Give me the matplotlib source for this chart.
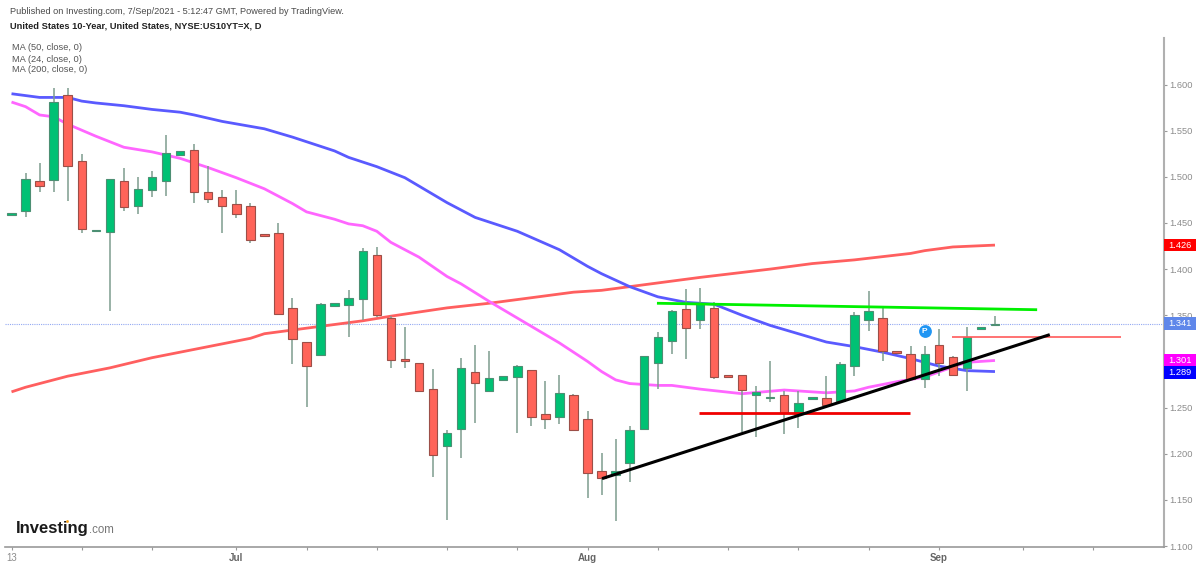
import matplotlib
matplotlib.use('Agg')
import matplotlib.pyplot as plt
from matplotlib.lines import Line2D
from matplotlib.patches import Rectangle

plt.rcParams['font.family'] = ['Liberation Sans', 'DejaVu Sans']

opens = [1.459, 1.463, 1.495, 1.497, 1.589, 1.517, 1.441, 1.440, 1.495, 1.468,
         1.486, 1.495, 1.524, 1.529, 1.484, 1.478, 1.471, 1.468, 1.438, 1.439,
         1.358, 1.321, 1.307, 1.360, 1.361, 1.368, 1.415, 1.347, 1.303, 1.298,
         1.270, 1.208, 1.227, 1.289, 1.268, 1.280, 1.283, 1.291, 1.243, 1.240,
         1.264, 1.238, 1.181, 1.177, 1.190, 1.227, 1.298, 1.322, 1.357, 1.345,
         1.358, 1.285, 1.285, 1.264, 1.260, 1.264, 1.243, 1.259, 1.260, 1.257,
         1.295, 1.345, 1.347, 1.311, 1.308, 1.281, 1.318, 1.305, 1.293, 1.335,
         1.339]
highs = [1.461, 1.504, 1.515, 1.596, 1.596, 1.525, 1.442, 1.498, 1.510, 1.500,
         1.506, 1.545, 1.528, 1.536, 1.512, 1.486, 1.486, 1.472, 1.438, 1.450,
         1.369, 1.321, 1.363, 1.363, 1.377, 1.423, 1.424, 1.349, 1.337, 1.298,
         1.292, 1.226, 1.304, 1.318, 1.311, 1.284, 1.296, 1.291, 1.279, 1.285,
         1.265, 1.246, 1.201, 1.216, 1.230, 1.306, 1.332, 1.356, 1.378, 1.380,
         1.364, 1.285, 1.285, 1.273, 1.300, 1.268, 1.268, 1.261, 1.284, 1.299,
         1.354, 1.376, 1.360, 1.311, 1.317, 1.317, 1.335, 1.306, 1.337, 1.337,
         1.349]
lows = [1.459, 1.456, 1.483, 1.484, 1.474, 1.439, 1.441, 1.355, 1.463, 1.460,
        1.478, 1.479, 1.524, 1.472, 1.472, 1.439, 1.455, 1.428, 1.436, 1.350,
        1.297, 1.251, 1.307, 1.360, 1.326, 1.345, 1.348, 1.293, 1.293, 1.267,
        1.175, 1.128, 1.195, 1.233, 1.268, 1.280, 1.222, 1.230, 1.227, 1.232,
        1.226, 1.152, 1.155, 1.127, 1.169, 1.226, 1.270, 1.308, 1.303, 1.335,
        1.281, 1.283, 1.224, 1.218, 1.256, 1.221, 1.228, 1.259, 1.253, 1.257,
        1.284, 1.333, 1.300, 1.309, 1.281, 1.271, 1.284, 1.285, 1.268, 1.335,
        1.339]
closes = [1.461, 1.498, 1.490, 1.581, 1.512, 1.443, 1.442, 1.498, 1.467, 1.487,
          1.500, 1.526, 1.528, 1.483, 1.476, 1.468, 1.460, 1.432, 1.436, 1.351,
          1.324, 1.295, 1.362, 1.363, 1.369, 1.420, 1.350, 1.302, 1.300, 1.268,
          1.199, 1.222, 1.293, 1.277, 1.282, 1.284, 1.295, 1.240, 1.238, 1.266,
          1.226, 1.179, 1.174, 1.181, 1.226, 1.306, 1.326, 1.355, 1.336, 1.363,
          1.283, 1.283, 1.269, 1.267, 1.261, 1.244, 1.255, 1.261, 1.253, 1.297,
          1.350, 1.355, 1.311, 1.309, 1.281, 1.308, 1.298, 1.285, 1.326, 1.337,
          1.341]

ma50_x = [0, 2, 4, 5, 6, 8, 10, 12, 13, 15, 18, 20, 21, 23, 24, 26, 28, 31, 33, 34,
          36, 39, 41, 42, 44, 46, 48, 50, 52, 54, 56, 58, 60, 62, 64, 66, 68, 70]
ma50 = [1.590, 1.586, 1.586, 1.582, 1.580, 1.577, 1.573, 1.570, 1.567, 1.560,
        1.552, 1.543, 1.538, 1.528, 1.521, 1.511, 1.499, 1.472, 1.456, 1.451,
        1.441, 1.421, 1.403, 1.395, 1.381, 1.370, 1.364, 1.362, 1.350, 1.339,
        1.330, 1.321, 1.316, 1.310, 1.303, 1.295, 1.290, 1.289]

ma24_x = [0, 1, 2, 3, 4, 6, 8, 10, 12, 14, 16, 18, 20, 21, 23, 24, 25, 26, 27, 29,
          31, 32, 34, 36, 39, 41, 42, 43, 44, 46, 47, 49, 52, 55, 58, 60, 61, 63,
          65, 67, 68, 70]
ma24 = [1.581, 1.576, 1.567, 1.565, 1.557, 1.544, 1.532, 1.527, 1.520, 1.510,
        1.499, 1.487, 1.471, 1.462, 1.454, 1.449, 1.447, 1.441, 1.429, 1.413,
        1.392, 1.384, 1.365, 1.347, 1.320, 1.300, 1.289, 1.280, 1.276, 1.274,
        1.274, 1.270, 1.265, 1.269, 1.266, 1.268, 1.272, 1.278, 1.283, 1.294,
        1.299, 1.301]

ma200_x = [0, 1, 4, 7, 10, 13, 15, 17, 18, 20, 22, 25, 27, 31, 34, 38, 40, 42, 45,
           49, 54, 57, 60, 64, 65, 67, 70]
ma200 = [1.267, 1.272, 1.284, 1.293, 1.304, 1.313, 1.319, 1.325, 1.330, 1.334,
         1.338, 1.344, 1.349, 1.358, 1.363, 1.371, 1.375, 1.377, 1.383, 1.391,
         1.400, 1.406, 1.410, 1.417, 1.420, 1.424, 1.426]

# trendlines drawn on the chart: (x0, x1), (y0, y1)
green_line = ((45.94, 73.0), (1.363, 1.356))
red_line = ((48.93, 63.95), (1.244, 1.244))
thin_red_line = ((66.94, 78.97), (1.326, 1.326))
black_line = ((42.03, 73.9), (1.173, 1.329))

last_price = 1.341
price_ticks = [1.10, 1.15, 1.20, 1.25, 1.30, 1.35, 1.40, 1.45, 1.50, 1.55, 1.60]
date_ticks = [0, 5, 10, 16, 21, 26, 31, 36, 41, 46, 51, 56, 61, 66, 72, 77]
date_labels = {0: '13', 16: 'Jul', 41: 'Aug', 66: 'Sep'}
price_tags = [(1.426, '1.426', '#ff0000'), (1.341, '1.341', '#5f87ea'),
              (1.301, '1.301', '#ff00ff'), (1.288, '1.289', '#0000ff')]

GREEN = '#00c174'
RED = '#ff6459'
WICK = '#7d9c8e'

fig = plt.figure(figsize=(12, 5.66), dpi=100)
ax = fig.add_axes([5 / 1200, 19 / 566, 1159 / 1200, 509 / 566])
ax.set_xlim(-0.463, 82.03)
ax.set_ylim(1.09893, 1.65038)

# moving averages sit under the candles
ax.plot(ma200_x, ma200, color='#ff5f5f', lw=2.0, zorder=2, solid_capstyle='butt')
ax.plot(ma24_x, ma24, color='#ff66ff', lw=2.0, zorder=2, solid_capstyle='butt')
ax.plot(ma50_x, ma50, color='#5a5aff', lw=2.0, zorder=2, solid_capstyle='butt')
ax.axhline(last_price, color='#93a9f2', lw=0.8, ls=(0, (1, 1)), zorder=1)

for i in range(len(opens)):
    up = closes[i] >= opens[i]
    ax.vlines(i, lows[i], highs[i], color=WICK, lw=1.1, zorder=3)
    ax.bar(i, abs(closes[i] - opens[i]), bottom=min(opens[i], closes[i]), width=0.6,
           color=GREEN if up else RED, edgecolor='#4c8f73' if up else '#9c4f48',
           linewidth=0.8, zorder=4)

ax.plot(*green_line, color='#00f000', lw=2.0, zorder=5, solid_capstyle='butt')
ax.plot(*red_line, color='#f00000', lw=2.0, zorder=5, solid_capstyle='butt')
ax.plot(*thin_red_line, color='#ff5a5a', lw=1.2, zorder=5, solid_capstyle='butt')
ax.plot(*black_line, color='black', lw=2.2, zorder=6, solid_capstyle='butt')

# the blue published marker
ax.scatter([65], [1.333], s=85, color='#2196f3', zorder=7, linewidths=0)
ax.text(65, 1.3325, 'P', color='white', fontsize=6, fontweight='bold',
        ha='center', va='center', zorder=8)

for side in ['top', 'left']:
    ax.spines[side].set_visible(False)
ax.spines['right'].set_color('#b0b0b0')
ax.spines['right'].set_linewidth(1.5)
ax.spines['bottom'].set_color('#999999')
ax.spines['bottom'].set_linewidth(1.2)

ax.yaxis.tick_right()
ax.set_yticks(price_ticks)
ax.set_yticklabels([f'{p:.3f}' for p in price_ticks])
ax.tick_params(axis='y', length=2, width=0.8, color='#999999', labelcolor='#8c8c8c',
               labelsize=6.7, pad=2)
ax.set_xticks(date_ticks)
ax.set_xticklabels([date_labels.get(t, '') for t in date_ticks])
ax.tick_params(axis='x', length=2.5, width=0.8, color='#999999', labelcolor='#666666',
               labelsize=7, pad=2)
for lbl in ax.get_xticklabels():
    if lbl.get_text() == '13':
        lbl.set_color('#8c8c8c')
    else:
        lbl.set_fontweight('bold')

# coloured price tags on the axis
for price, text, col in price_tags:
    ax.add_patch(Rectangle((1.0, price - 0.0066), 0.0276, 0.0132, transform=ax.get_yaxis_transform(),
                           facecolor=col, edgecolor='none', clip_on=False, zorder=9))
    ax.text(1.0035, price, text, transform=ax.get_yaxis_transform(), color='white',
            fontsize=6.7, va='center', ha='left', zorder=10)

fig.text(10 / 1200, 1 - 11 / 566, 'Published on Investing.com, 7/Sep/2021 - 5:12:47 GMT, Powered by TradingView.',
         fontsize=6.56, color='#4a4a4a', va='center')
fig.text(10 / 1200, 1 - 26 / 566, 'United States 10-Year, United States, NYSE:US10YT=X, D',
         fontsize=6.7, color='#222222', fontweight='bold', va='center')
for y, text in zip([48, 59, 70], ['MA (50, close, 0)', 'MA (24, close, 0)', 'MA (200, close, 0)']):
    fig.text(12 / 1200, 1 - y / 566, text, fontsize=6.7, color='#555555', va='center')

fig.text(16 / 1200, 1 - 528 / 566, 'Investing', fontsize=12, fontweight='bold',
         color='#1a1a1a', va='center')
fig.text(89 / 1200, 1 - 530 / 566, '.com', fontsize=8.3, color='#777777', va='center')
fig.add_artist(Line2D([66.7 / 1200], [1 - 521 / 566], marker='o', ms=2, color='#f7a11a',
                      mew=0, transform=fig.transFigure, zorder=5))

fig.savefig('out.png', dpi=100)
